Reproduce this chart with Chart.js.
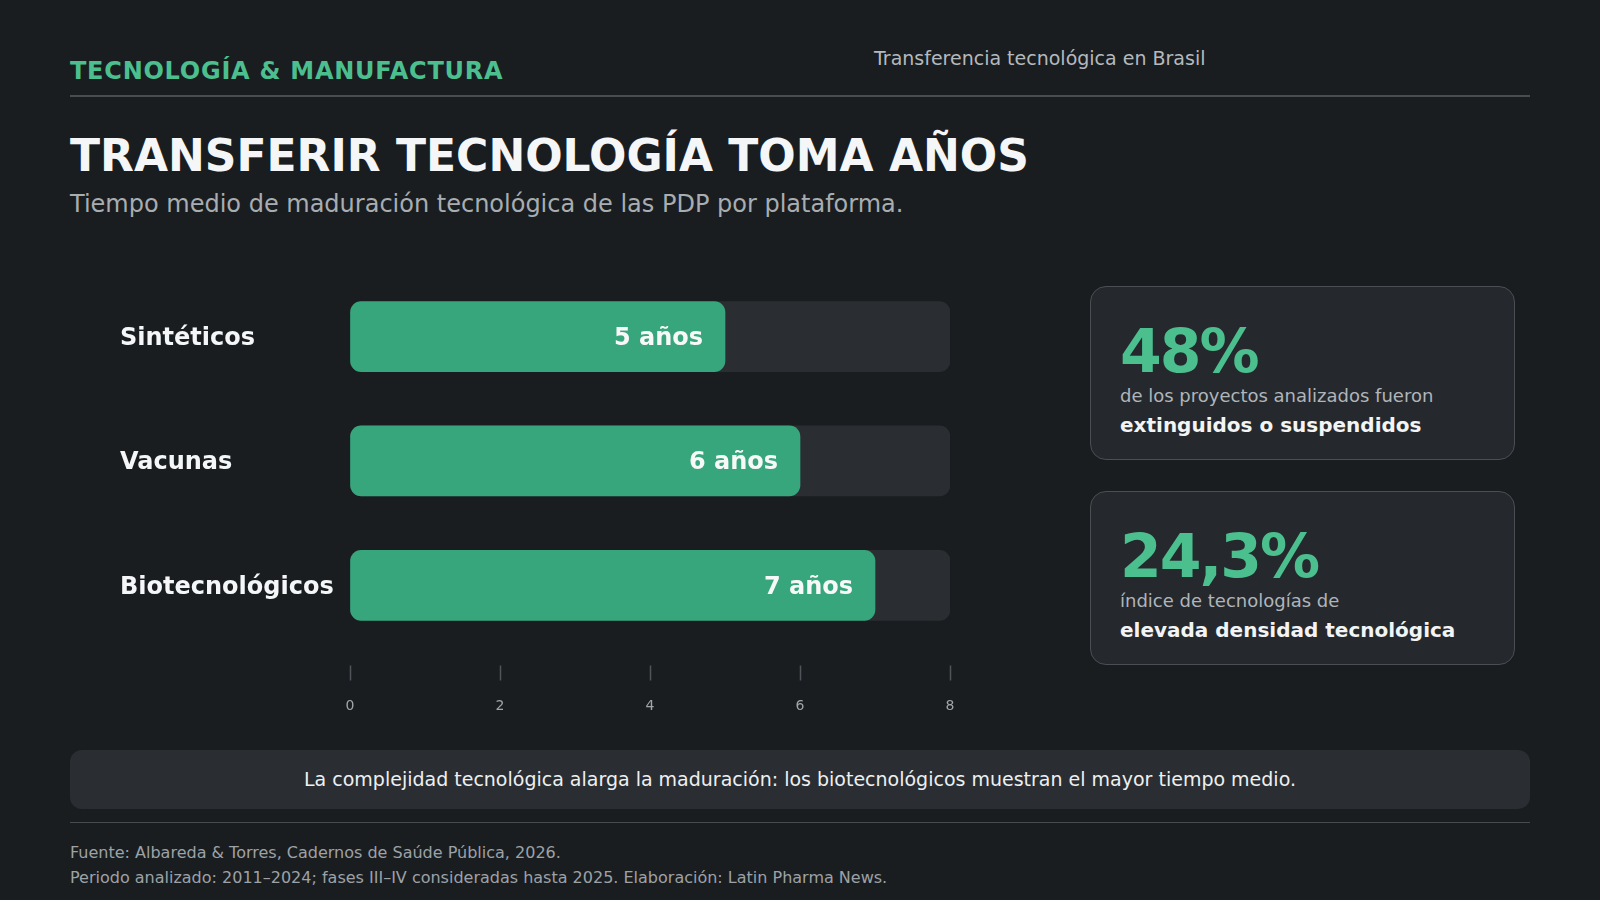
<!DOCTYPE html>
<html lang="es">
<head>
<meta charset="utf-8">
<title>Transferir tecnología toma años</title>
<script src="https://cdn.jsdelivr.net/npm/chart.js@4.4.1/dist/chart.umd.min.js"></script>
<style>
  html, body { margin: 0; padding: 0; }
  body {
    width: 1600px; height: 900px; position: relative; overflow: hidden;
    background: #1a1d20; font-family: "DejaVu Sans", sans-serif;
  }
  .abs { position: absolute; white-space: nowrap; line-height: 1; }
  .kicker { left: 70px; top: 58.7px; font-size: 24px; font-weight: bold; color: #4cbf8f; letter-spacing: 0.75px; }
  .top-right { left: 874px; top: 49px; font-size: 19px; color: #b4b9be; }
  .rule { position: absolute; left: 70px; width: 1460px; }
  .title { left: 70px; top: 134px; font-size: 44px; font-weight: bold; color: #f4f6f7; }
  .subtitle { left: 70px; top: 191.5px; font-size: 24px; color: #a8adb2; }
  #chart-wrap { position: absolute; left: 120px; top: 260px; width: 860px; height: 470px; }
  .card {
    position: absolute; left: 1090px; width: 425px; height: 174px; box-sizing: border-box;
    background: #25292d; border: 1.5px solid #4a4f55; border-radius: 16px;
  }
  .card .big { left: 29px; top: 33.7px; font-size: 60px; font-weight: bold; color: #4cbf8f; letter-spacing: -2px; }
  .card .line1 { left: 29px; top: 100px; font-size: 18px; color: #b0b5ba; }
  .card .line2 { left: 29px; top: 127.5px; font-size: 20px; font-weight: bold; color: #f2f4f5; }
  .takeaway {
    position: absolute; left: 70px; top: 750px; width: 1460px; height: 59px; border-radius: 12px;
    background: #2a2e32; color: #eef0f1; font-size: 19px; line-height: 59px; text-align: center;
  }
  .source { left: 70px; font-size: 16px; color: #9da2a7; }
</style>
</head>
<body>
  <div class="abs kicker">TECNOLOGÍA &amp; MANUFACTURA</div>
  <div class="abs top-right">Transferencia tecnológica en Brasil</div>
  <div class="rule" style="top:95px;height:2px;background:#484d52;"></div>

  <div class="abs title">TRANSFERIR TECNOLOGÍA TOMA AÑOS</div>
  <div class="abs subtitle">Tiempo medio de maduración tecnológica de las PDP por plataforma.</div>

  <div id="chart-wrap"><canvas id="pdpChart" width="860" height="470"></canvas></div>

  <div class="card" style="top:286px;">
    <div class="abs big">48%</div>
    <div class="abs line1">de los proyectos analizados fueron</div>
    <div class="abs line2">extinguidos o suspendidos</div>
  </div>
  <div class="card" style="top:491px;">
    <div class="abs big">24,3%</div>
    <div class="abs line1">índice de tecnologías de</div>
    <div class="abs line2">elevada densidad tecnológica</div>
  </div>

  <div class="takeaway">La complejidad tecnológica alarga la maduración: los biotecnológicos muestran el mayor tiempo medio.</div>
  <div class="rule" style="top:822px;height:1px;background:#464b50;"></div>
  <div class="abs source" style="top:844.8px;">Fuente: Albareda &amp; Torres, Cadernos de Saúde Pública, 2026.</div>
  <div class="abs source" style="top:870.3px;">Periodo analizado: 2011–2024; fases III–IV consideradas hasta 2025. Elaboración: Latin Pharma News.</div>

<script>
// Datos: tiempo medio de maduración (años) por plataforma
const platforms = ['Sintéticos', 'Vacunas', 'Biotecnológicos'];
const maturationYears = [5, 6, 7];
const axisTicks = [0, 2, 4, 6, 8];
const axisMax = 8;
const unitLabel = 'años';

const trackValues = platforms.map(() => axisMax);

// Etiqueta de valor dentro de cada barra
const valueLabels = {
  id: 'valueLabels',
  afterDatasetsDraw(chart) {
    const ctx = chart.ctx;
    const meta = chart.getDatasetMeta(1);
    ctx.save();
    ctx.font = 'bold 24px "DejaVu Sans"';
    ctx.fillStyle = '#f7f8f8';
    ctx.textAlign = 'right';
    ctx.textBaseline = 'middle';
    meta.data.forEach((bar, i) => {
      ctx.fillText(`${maturationYears[i]} ${unitLabel}`, bar.x - 22, bar.y + 2);
    });
    ctx.restore();
  }
};

new Chart(document.getElementById('pdpChart'), {
  type: 'bar',
  data: {
    labels: platforms,
    datasets: [
      {
        label: 'pista',
        data: trackValues,
        backgroundColor: '#2a2e32',
        borderRadius: 11,
        borderSkipped: false,
        barThickness: 70,
        grouped: false,
        order: 1
      },
      {
        label: 'Años',
        data: maturationYears,
        backgroundColor: '#38a67c',
        borderRadius: 11,
        borderSkipped: false,
        barThickness: 70,
        grouped: false,
        order: 0
      }
    ]
  },
  options: {
    indexAxis: 'y',
    responsive: false,
    animation: false,
    devicePixelRatio: 1,
    layout: { padding: { top: 12.5, right: 30, left: 0, bottom: 0 } },
    plugins: { legend: { display: false }, tooltip: { enabled: false } },
    scales: {
      x: {
        min: 0,
        max: axisMax,
        afterFit(scale) { scale.height = 82.5; },
        afterBuildTicks(scale) { scale.ticks = axisTicks.map(v => ({ value: v })); },
        border: { display: false },
        grid: {
          drawOnChartArea: false,
          drawTicks: true,
          tickLength: 33,
          tickColor: '#4f545a',
          tickWidth: 1.5,
          tickBorderDash: [0, 17.5, 16, 100]
        },
        ticks: {
          color: '#a0a5aa',
          padding: 17,
          font: { family: 'DejaVu Sans', size: 14 }
        }
      },
      y: {
        afterFit(scale) { scale.width = 230; },
        border: { display: false },
        grid: { display: false },
        ticks: {
          crossAlign: 'far',
          padding: 0,
          labelOffset: 2,
          color: '#f4f6f7',
          font: { family: 'DejaVu Sans', size: 24, weight: 'bold' }
        }
      }
    }
  },
  plugins: [valueLabels]
});
</script>
</body>
</html>
